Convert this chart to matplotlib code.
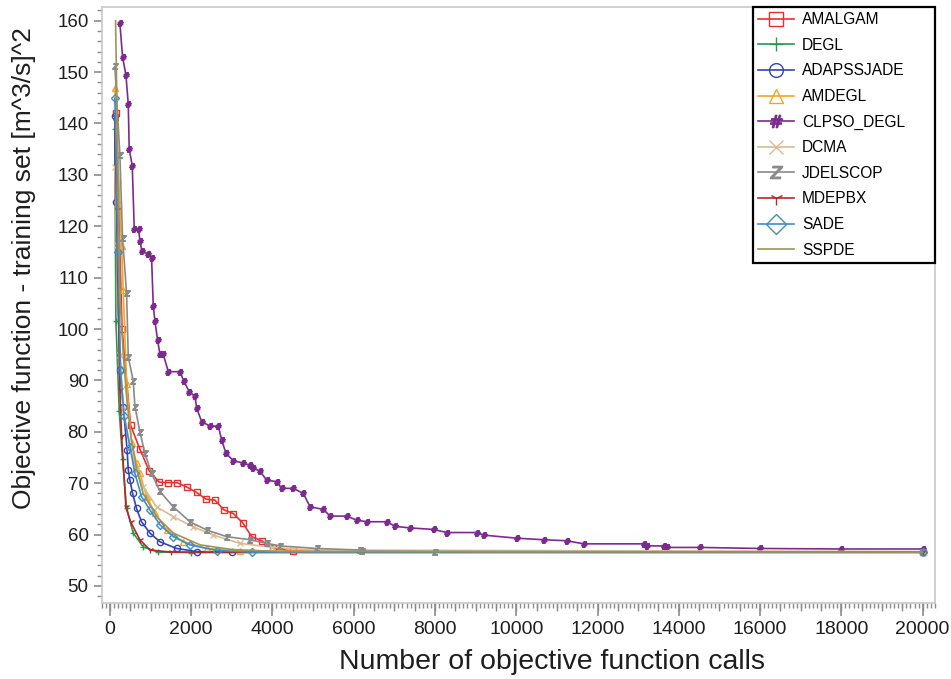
import matplotlib
matplotlib.use("Agg")
import matplotlib.pyplot as plt
from matplotlib.ticker import MultipleLocator, NullFormatter

plt.rcParams['font.family'] = ['Liberation Sans', 'DejaVu Sans']

# series (x = objective function calls, y = objective value)
names = ['AMALGAM', 'DEGL', 'ADAPSSJADE', 'AMDEGL', 'CLPSO_DEGL',
         'DCMA', 'JDELSCOP', 'MDEPBX', 'SADE', 'SSPDE']

amalgam_x = [150, 300, 509, 739, 968, 1214, 1437, 1658, 1905, 2135, 2365, 2586,
             2808, 3037, 3268, 3489, 3736, 4023, 4500, 20000]
amalgam_y = [142, 100, 81.3, 76.6, 72.4, 70.2, 70.1, 70.1, 69.2, 68.2, 66.9, 66.7,
             64.8, 64.1, 62.3, 59.6, 58.8, 57.3, 56.8, 56.6]

degl_x = [120, 148, 230, 312, 411, 575, 821, 1190, 2000, 20000]
degl_y = [139, 101.6, 84, 74.7, 65.1, 60.3, 57.6, 56.6, 56.5, 56.5]

adap_x = [123, 140, 246, 328, 424, 452, 493, 559, 655, 778, 985, 1232, 1643,
          2135, 3000, 20000]
adap_y = [141.5, 124.8, 92.0, 84.9, 76.5, 72.6, 70.6, 68.0, 65.1, 62.5, 60.3,
          58.6, 57.3, 56.7, 56.6, 56.6]

amdegl_x = [123, 288, 328, 411, 534, 655, 739, 903, 1108, 1395, 1806, 2381,
            3200, 20000]
amdegl_y = [146.9, 116.1, 107.6, 89.4, 77.8, 73.9, 71.9, 67.4, 64.2, 60.9, 58.6,
            57.3, 56.8, 56.6]

clpso_x = [246, 312, 394, 452, 476, 550, 600, 706, 739, 788, 945, 1026, 1067,
           1110, 1174, 1232, 1313, 1437, 1724, 1823, 1954, 2094, 2135, 2258,
           2463, 2668, 2751, 2857, 3037, 3284, 3448, 3530, 3695, 3859, 4105,
           4229, 4515, 4761, 4926, 5254, 5419, 5830, 6076, 6323, 6815, 7020,
           7389, 7964, 8293, 9032, 9195, 10018, 10673, 11249, 11658, 13136,
           13218, 13628, 13711, 14532, 16000, 18000, 20000]
clpso_y = [159.5, 152.9, 149.5, 143.8, 135.0, 131.8, 119.4, 119.4, 117.2, 115.1,
           114.6, 113.9, 104.5, 101.5, 97.8, 95.1, 95.1, 91.7, 91.7, 89.8, 87.8,
           86.9, 84.6, 82.0, 81.1, 81.1, 78.4, 75.8, 74.4, 73.9, 73.5, 73.0,
           72.3, 70.6, 70.3, 69.0, 69.0, 68.0, 65.4, 64.9, 63.6, 63.6, 62.8,
           62.5, 62.5, 61.6, 61.3, 61.0, 60.4, 60.4, 59.9, 59.3, 59.0, 58.8,
           58.2, 58.2, 57.8, 57.8, 57.5, 57.5, 57.3, 57.2, 57.2]

dcma_x = [123, 164, 250, 328, 500, 650, 821, 1149, 1560, 2053, 2545, 3202,
          4000, 5000, 20000]
dcma_y = [131.6, 116.4, 95, 84.3, 77, 72.5, 69.3, 65.4, 63.5, 61.5, 59.9, 58.3,
          57.5, 57.0, 56.7]

jdel_x = [123, 246, 312, 411, 452, 575, 616, 739, 862, 1026, 1232, 1560, 1970,
          2381, 2874, 3448, 3859, 4187, 5090, 6158, 6200, 8000, 20000]
jdel_y = [151.1, 133.9, 117.7, 107, 94.6, 89.9, 84.9, 80.0, 75.8, 71.9, 68.4,
          65.4, 62.5, 60.9, 59.6, 59.0, 58.3, 57.8, 57.3, 57.0, 56.8, 56.7, 56.6]

mdepbx_x = [123, 164, 246, 288, 394, 509, 739, 985, 1500, 20000]
mdepbx_y = [140.4, 123.2, 88.2, 79.1, 65.4, 62.5, 59.0, 57.0, 56.6, 56.6]

sade_x = [123, 200, 263, 350, 493, 616, 778, 985, 1232, 1560, 1970, 2628,
          3500, 20000]
sade_y = [144.9, 115, 92, 83, 77.1, 71.9, 67.4, 64.8, 61.9, 59.6, 58.0, 56.9,
          56.6, 56.6]

sspde_x = [140, 250, 330, 420, 520, 650, 820, 1150, 1560, 2220, 3000, 4200, 20000]
sspde_y = [160, 106, 95, 86, 79, 73, 68, 63.5, 60.3, 58, 57.1, 56.7, 56.6]

xs = [amalgam_x, degl_x, adap_x, amdegl_x, clpso_x, dcma_x, jdel_x, mdepbx_x,
      sade_x, sspde_x]
ys = [amalgam_y, degl_y, adap_y, amdegl_y, clpso_y, dcma_y, jdel_y, mdepbx_y,
      sade_y, sspde_y]

colors = ['#e8302e', '#2a9a50', '#3343b0', '#f2a524', '#7d2a8f',
          '#d9bc94', '#8a8a8a', '#b22a2a', '#3d8ec8', '#9c9458']
markers = ['s', '+', 'o', '^', '$\\#$', 'x', '$Z$', '1', 'D', None]

fig = plt.figure(figsize=(9.51, 6.79), dpi=100)
ax = fig.add_axes([0.107, 0.112, 0.876, 0.878])

for i in range(len(names)):
    filled = markers[i] in ('+', 'x', '1', '$\\#$', '$Z$')
    ms = 4.0 if markers[i] in ('$\\#$', '$Z$') else 4.5
    ax.plot(xs[i], ys[i], color=colors[i], lw=1.2,
            marker=markers[i], markersize=ms,
            markerfacecolor=colors[i] if filled else 'none',
            markeredgewidth=1.0, label=names[i])

ax.set_xlim(-200, 20300)
ax.set_ylim(46.7, 162.7)

ax.xaxis.set_major_locator(MultipleLocator(2000))
ax.xaxis.set_minor_locator(MultipleLocator(100))
ax.yaxis.set_major_locator(MultipleLocator(10))
ax.yaxis.set_minor_locator(MultipleLocator(2))

tick_col = '#8c8c8c'
ax.tick_params(axis='x', which='major', length=9, width=1.2, color=tick_col,
               labelsize=14, labelcolor='#1e1e1e', pad=4)
ax.tick_params(axis='x', which='minor', length=3.5, width=1.0, color=tick_col)
ax.tick_params(axis='y', which='major', length=6, width=1.2, color=tick_col,
               labelsize=13.5, labelcolor='#1e1e1e')
ax.tick_params(axis='y', which='minor', length=3.5, width=1.0, color=tick_col)

# medium ticks every 500 calls
sec = ax.secondary_xaxis('bottom')
sec.xaxis.set_major_locator(MultipleLocator(500))
sec.xaxis.set_major_formatter(NullFormatter())
sec.tick_params(length=6, width=1.0, color=tick_col)
sec.spines['bottom'].set_visible(False)

for s in ax.spines.values():
    s.set_color('#c8c8c8')
    s.set_linewidth(1.2)

ax.set_xlabel('Number of objective function calls', fontsize=20.5,
              color='#1e1e1e')
ax.set_ylabel('Objective function - training set [m^3/s]^2', fontsize=19,
              color='#1e1e1e')
ax.xaxis.set_label_coords(0.540, -0.078)
ax.yaxis.set_label_coords(-0.079, 0.562)

leg = ax.legend(loc='upper right', bbox_to_anchor=(0.7815, 0.0, 0.2185, 1.0),
                mode='expand', fontsize=11.2, markerscale=2.2,
                handlelength=2.3, handletextpad=0.5, labelspacing=0.68,
                borderaxespad=0.0, fancybox=False, framealpha=1, borderpad=0.35)
leg.get_frame().set_edgecolor('black')
leg.get_frame().set_linewidth(1.6)

fig.savefig('out.png', dpi=100)
